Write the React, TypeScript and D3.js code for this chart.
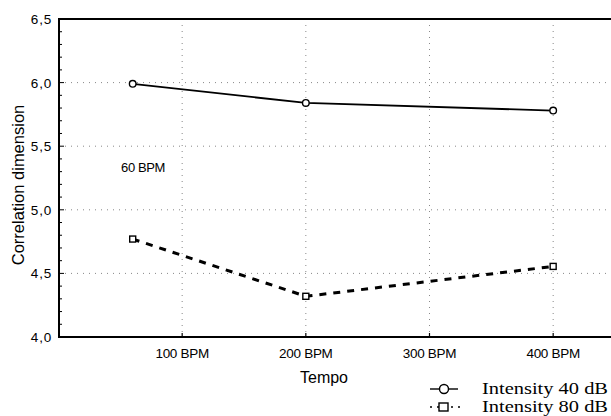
import { useRef, useEffect } from 'react'
import * as d3 from 'd3'

const tempos = [60, 200, 400]
const intensity40 = [5.99, 5.84, 5.78]
const intensity80 = [4.77, 4.32, 4.555]
const xTicks = [100, 200, 300, 400]
const yTicks = [4.0, 4.5, 5.0, 5.5, 6.0, 6.5]
const seriesNames = ['Intensity 40 dB', 'Intensity 80 dB']

const App = () => {
  const chartRef = useRef<SVGGElement>(null)

  useEffect(() => {
    const g = d3.select(chartRef.current)
    g.selectAll('*').remove()

    const x = d3.scaleLinear().domain([0, 450]).range([58.5, 615])
    const y = d3.scaleLinear().domain([4.0, 6.5]).range([337, 19])
    const left = 59, top = 19, bottom = 337, right = 640
    const sans = 'Liberation Sans, Arial, sans-serif'

    // grid
    g.selectAll('.hgrid')
      .data(yTicks.slice(1, -1))
      .enter().append('line')
      .attr('x1', left).attr('x2', right)
      .attr('y1', d => y(d)).attr('y2', d => y(d))
      .attr('stroke', '#888').attr('stroke-width', 1)
      .attr('stroke-dasharray', '1,5')

    g.selectAll('.vgrid')
      .data(xTicks)
      .enter().append('line')
      .attr('x1', d => x(d)).attr('x2', d => x(d))
      .attr('y1', top).attr('y2', bottom)
      .attr('stroke', '#888').attr('stroke-width', 1)
      .attr('stroke-dasharray', '1,5')

    // minor ticks on left axis
    const minor = d3.range(4.0, 6.5, 0.1).filter(v => Math.abs(v * 2 - Math.round(v * 2)) > 0.01)
    g.selectAll('.minor')
      .data(minor)
      .enter().append('line')
      .attr('x1', left).attr('x2', left + 3)
      .attr('y1', d => y(d)).attr('y2', d => y(d))
      .attr('stroke', '#000').attr('stroke-width', 1)

    // frame
    g.append('line').attr('x1', left).attr('x2', left).attr('y1', top).attr('y2', bottom)
      .attr('stroke', '#000').attr('stroke-width', 2)
    g.append('line').attr('x1', left - 1).attr('x2', right).attr('y1', bottom).attr('y2', bottom)
      .attr('stroke', '#000').attr('stroke-width', 2)
    g.append('line').attr('x1', left - 1).attr('x2', right).attr('y1', top).attr('y2', top)
      .attr('stroke', '#000').attr('stroke-width', 2)

    // major ticks
    g.selectAll('.ytick')
      .data(yTicks)
      .enter().append('line')
      .attr('x1', left).attr('x2', left + 5)
      .attr('y1', d => y(d)).attr('y2', d => y(d))
      .attr('stroke', '#000').attr('stroke-width', 1)
    g.selectAll('.xtick')
      .data(xTicks)
      .enter().append('line')
      .attr('x1', d => x(d)).attr('x2', d => x(d))
      .attr('y1', bottom).attr('y2', bottom - 4)
      .attr('stroke', '#000').attr('stroke-width', 1.2)

    // tick labels
    g.selectAll('.ylab')
      .data(yTicks)
      .enter().append('text')
      .attr('x', 52).attr('y', d => y(d) + 5)
      .attr('text-anchor', 'end')
      .attr('font-family', sans)
      .attr('font-size', 13.5)
      .attr('letter-spacing', 0.8)
      .text(d => d3.format('.1f')(d).replace('.', ','))

    g.selectAll('.xlab')
      .data(xTicks)
      .enter().append('text')
      .attr('x', d => x(d)).attr('y', 358)
      .attr('text-anchor', 'middle')
      .attr('font-family', sans)
      .attr('font-size', 13.5)
      .attr('letter-spacing', -0.3)
      .text(d => `${d} BPM`)

    // axis titles
    g.append('text')
      .attr('transform', `translate(24, 185) rotate(-90)`)
      .attr('text-anchor', 'middle')
      .attr('font-family', sans)
      .attr('font-size', 16.5)
      .text('Correlation dimension')

    g.append('text')
      .attr('x', 324).attr('y', 383)
      .attr('text-anchor', 'middle')
      .attr('font-family', sans)
      .attr('font-size', 16)
      .text('Tempo')

    g.append('text')
      .attr('x', 143).attr('y', 172)
      .attr('text-anchor', 'middle')
      .attr('font-family', sans)
      .attr('font-size', 13)
      .attr('letter-spacing', -0.4)
      .text('60 BPM')

    // series
    const line = d3.line<number>().x((_, i) => x(tempos[i])).y(d => y(d))

    g.append('path').datum(intensity40)
      .attr('d', line).attr('fill', 'none')
      .attr('stroke', '#000').attr('stroke-width', 1.8)

    g.append('path').datum(intensity80)
      .attr('d', line).attr('fill', 'none')
      .attr('stroke', '#000').attr('stroke-width', 3)
      .attr('stroke-dasharray', '7,7')

    g.selectAll('.c40')
      .data(intensity40)
      .enter().append('circle')
      .attr('cx', (_, i) => x(tempos[i])).attr('cy', d => y(d))
      .attr('r', 3.3)
      .attr('fill', '#fff').attr('stroke', '#000').attr('stroke-width', 1.4)

    g.selectAll('.s80')
      .data(intensity80)
      .enter().append('rect')
      .attr('x', (_, i) => x(tempos[i]) - 3).attr('y', d => y(d) - 3)
      .attr('width', 6).attr('height', 6)
      .attr('fill', '#fff').attr('stroke', '#000').attr('stroke-width', 1.4)

    // legend
    const leg = g.append('g')
    seriesNames.forEach((name, i) => {
      const ly = 389 + i * 18
      if (i === 0) {
        leg.append('line').attr('x1', 430).attr('x2', 458).attr('y1', ly).attr('y2', ly)
          .attr('stroke', '#000').attr('stroke-width', 1.4)
        leg.append('circle').attr('cx', 444).attr('cy', ly).attr('r', 4.5)
          .attr('fill', '#fff').attr('stroke', '#000').attr('stroke-width', 1.4)
      } else {
        leg.append('line').attr('x1', 430).attr('x2', 460).attr('y1', ly).attr('y2', ly)
          .attr('stroke', '#000').attr('stroke-width', 1.4).attr('stroke-dasharray', '2,5')
        leg.append('rect').attr('x', 439).attr('y', ly - 4).attr('width', 9).attr('height', 8)
          .attr('fill', '#fff').attr('stroke', '#000').attr('stroke-width', 1.4)
      }
      leg.append('text')
        .attr('x', 482).attr('y', ly + 5)
        .attr('font-family', 'Liberation Serif, Times New Roman, serif')
        .attr('font-size', 16)
        .attr('textLength', 126)
        .attr('lengthAdjust', 'spacingAndGlyphs')
        .text(name)
    })
  })

  return (
    <svg width={611} height={416} style={{ position: 'absolute', left: 0, top: 0, background: '#fff' }}>
      <g ref={chartRef}></g>
    </svg>
  )
}

export default App
